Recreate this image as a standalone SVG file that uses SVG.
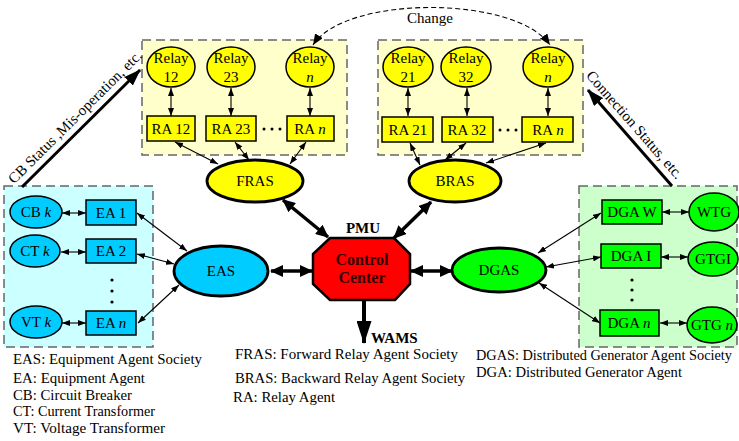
<svg xmlns="http://www.w3.org/2000/svg" width="739" height="441" viewBox="0 0 739 441">
<style>
text{font-family:"Liberation Serif","Times New Roman",serif;font-size:15px;fill:#000}
.m{text-anchor:middle}
.pY{fill:#FFFFCC;stroke:#666;stroke-width:1.5;stroke-dasharray:9,5}
.pC{fill:#CCFFFF;stroke:#666;stroke-width:1.5;stroke-dasharray:9,5}
.pG{fill:#CCFFCC;stroke:#666;stroke-width:1.5;stroke-dasharray:9,5}
.y{fill:#FFFF00;stroke:#000;stroke-width:1.5}
.c{fill:#00CCFF;stroke:#000;stroke-width:1.5}
.g{fill:#00FF00;stroke:#000;stroke-width:1.5}
.bg{stroke-width:2.8}
.t{stroke:#000;stroke-width:1.1;fill:none;marker-start:url(#ah);marker-end:url(#ah)}
.T{stroke:#000;stroke-width:3.5;fill:none;marker-start:url(#ahT);marker-end:url(#ahT)}
.B{stroke:#000;stroke-width:3;fill:none;marker-end:url(#ahB)}
.it{font-style:italic}
.leg{font-size:15px}
</style>
<defs>
<marker id="ah" markerUnits="userSpaceOnUse" markerWidth="8" markerHeight="6" refX="8" refY="3" orient="auto-start-reverse"><path d="M0,0 L8,3 L0,6 z" fill="#000"/></marker>
<marker id="ahM" markerUnits="userSpaceOnUse" markerWidth="11" markerHeight="9" refX="11" refY="4.5" orient="auto-start-reverse"><path d="M0,0 L11,4.5 L0,9 z" fill="#000"/></marker>
<marker id="ahT" markerUnits="userSpaceOnUse" markerWidth="13" markerHeight="12" refX="12" refY="6" orient="auto-start-reverse"><path d="M0,0 L13,6 L0,12 z" fill="#000"/></marker>
<marker id="ahB" markerUnits="userSpaceOnUse" markerWidth="17" markerHeight="12" refX="16" refY="6" orient="auto"><path d="M0,0 L17,6 L0,12 z" fill="#000"/></marker>
<marker id="ahW" markerUnits="userSpaceOnUse" markerWidth="23" markerHeight="15" refX="22" refY="7.5" orient="auto"><path d="M0,0 L23,7.5 L0,15 z" fill="#000"/></marker>
</defs>

<!-- panels -->
<g id="panel-fr"><rect class="pY" x="142" y="40" width="205" height="115"/></g>
<g id="panel-br"><rect class="pY" x="378" y="40" width="205" height="115"/></g>
<g id="panel-eq"><rect class="pC" x="4" y="186" width="149" height="161"/></g>
<g id="panel-dg"><rect class="pG" x="579" y="186" width="158" height="161"/></g>

<!-- connectors -->
<g id="connectors">
<path d="M313,45 C345,-5 515,-5 550,45" fill="none" stroke="#000" stroke-width="1.1" stroke-dasharray="5,3" marker-start="url(#ahM)" marker-end="url(#ahM)"/>
<line class="t" x1="171" y1="88" x2="171" y2="116"/>
<line class="t" x1="231" y1="88" x2="231" y2="116"/>
<line class="t" x1="310" y1="88" x2="310" y2="116"/>
<line class="t" x1="408" y1="88" x2="408" y2="116"/>
<line class="t" x1="467" y1="88" x2="467" y2="116"/>
<line class="t" x1="548" y1="88" x2="548" y2="116"/>
<line class="t" x1="175" y1="142" x2="218" y2="164"/>
<line class="t" x1="235" y1="142" x2="249" y2="160"/>
<line class="t" x1="306" y1="142" x2="290" y2="164"/>
<line class="t" x1="410" y1="143" x2="420" y2="165"/>
<line class="t" x1="466" y1="143" x2="445" y2="160"/>
<line class="t" x1="546" y1="143" x2="486" y2="163"/>
<line class="t" x1="137" y1="213" x2="187" y2="251"/>
<line class="t" x1="137" y1="254" x2="174" y2="264"/>
<line class="t" x1="138" y1="323" x2="179" y2="285"/>
<line class="t" x1="538" y1="253" x2="601" y2="213"/>
<line class="t" x1="546" y1="267" x2="601" y2="257"/>
<line class="t" x1="539" y1="283" x2="600" y2="323"/>
<line class="t" x1="62" y1="213" x2="86" y2="213"/>
<line class="t" x1="61" y1="252" x2="86" y2="252"/>
<line class="t" x1="62" y1="323" x2="86" y2="323"/>
<line class="t" x1="662" y1="212" x2="689" y2="212"/>
<line class="t" x1="661" y1="257" x2="688" y2="257"/>
<line class="t" x1="660" y1="323" x2="687" y2="323"/>
<line class="T" x1="283" y1="200" x2="328" y2="237"/>
<line class="T" x1="431" y1="202" x2="394" y2="238"/>
<line class="T" x1="271" y1="271" x2="312" y2="271"/>
<line class="T" x1="411" y1="271" x2="452" y2="271"/>
<line class="B" x1="22" y1="187" x2="140" y2="70"/>
<line class="B" x1="672" y1="186" x2="588" y2="90"/>
<line x1="364" y1="300" x2="364" y2="343" stroke="#000" stroke-width="4" marker-end="url(#ahW)"/>
</g>

<!-- top-left relays -->
<g id="relay12"><ellipse class="y" cx="171" cy="67" rx="24" ry="20"/><text class="m" x="171" y="63">Relay</text><text class="m" x="171" y="82">12</text></g>
<g id="relay23"><ellipse class="y" cx="231" cy="67" rx="24" ry="20"/><text class="m" x="231" y="63">Relay</text><text class="m" x="231" y="82">23</text></g>
<g id="relayn1"><ellipse class="y" cx="310" cy="67" rx="24" ry="20"/><text class="m" x="310" y="63">Relay</text><text class="m it" x="310" y="82">n</text></g>
<g id="ra12"><rect class="y" x="147" y="116" width="48" height="25"/><text class="m" x="171" y="134">RA 12</text></g>
<g id="ra23"><rect class="y" x="206" y="116" width="50" height="25"/><text class="m" x="231" y="134">RA 23</text></g>
<g id="dots1"><circle cx="264" cy="129" r="1.5"/><circle cx="272" cy="129" r="1.5"/><circle cx="280" cy="129" r="1.5"/></g>
<g id="ran1"><rect class="y" x="287" y="116" width="47" height="25"/><text class="m" x="310" y="134">RA <tspan class="it">n</tspan></text></g>

<!-- top-right relays -->
<g id="relay21"><ellipse class="y" cx="408" cy="67" rx="25" ry="20"/><text class="m" x="408" y="63">Relay</text><text class="m" x="408" y="82">21</text></g>
<g id="relay32"><ellipse class="y" cx="466" cy="67" rx="25" ry="20"/><text class="m" x="466" y="63">Relay</text><text class="m" x="466" y="82">32</text></g>
<g id="relayn2"><ellipse class="y" cx="548" cy="67" rx="25" ry="20"/><text class="m" x="548" y="63">Relay</text><text class="m it" x="548" y="82">n</text></g>
<g id="ra21"><rect class="y" x="382" y="117" width="51" height="25"/><text class="m" x="408" y="135">RA 21</text></g>
<g id="ra32"><rect class="y" x="442" y="117" width="51" height="25"/><text class="m" x="467" y="135">RA 32</text></g>
<g id="dots2"><circle cx="500" cy="130" r="1.5"/><circle cx="508" cy="130" r="1.5"/><circle cx="516" cy="130" r="1.5"/></g>
<g id="ran2"><rect class="y" x="522" y="117" width="51" height="25"/><text class="m" x="548" y="135">RA <tspan class="it">n</tspan></text></g>

<g id="change"><text class="m" x="430" y="23">Change</text></g>

<!-- societies -->
<g id="fras"><ellipse class="y bg" cx="255" cy="181" rx="48" ry="21"/><text class="m" x="255" y="186">FRAS</text></g>
<g id="bras"><ellipse class="y bg" cx="455" cy="181" rx="46" ry="21"/><text class="m" x="455" y="186">BRAS</text></g>
<g id="eas"><ellipse class="c bg" cx="221" cy="271" rx="47" ry="25"/><text class="m" x="221" y="276">EAS</text></g>
<g id="dgas"><ellipse class="g bg" cx="499" cy="270" rx="47" ry="22"/><text class="m" x="499" y="275">DGAS</text></g>

<!-- control center -->
<g id="cc">
<polygon points="330,238 394,238 410,254 410,284 395,300 330,300 313,284 313,254" fill="#FF0000" stroke="#000" stroke-width="2.5"/>
<text class="m" x="362" y="265" style="font-weight:bold;font-size:16px;fill:#300">Control</text>
<text class="m" x="362" y="283" style="font-weight:bold;font-size:16px;fill:#300">Center</text>
</g>
<g id="pmu"><text class="m" x="363" y="233" style="font-weight:bold">PMU</text></g>
<g id="wams"><text x="371" y="343" style="font-weight:bold">WAMS</text></g>

<!-- equipment panel -->
<g id="cbk"><ellipse class="c" cx="36" cy="212" rx="26" ry="16"/><text class="m" x="36" y="217">CB <tspan class="it">k</tspan></text></g>
<g id="ctk"><ellipse class="c" cx="35" cy="251" rx="25" ry="16"/><text class="m" x="35" y="256">CT <tspan class="it">k</tspan></text></g>
<g id="vtk"><ellipse class="c" cx="36" cy="322" rx="26" ry="16"/><text class="m" x="36" y="327">VT <tspan class="it">k</tspan></text></g>
<g id="ea1"><rect class="c" x="86" y="200" width="50" height="25"/><text class="m" x="111" y="218">EA 1</text></g>
<g id="ea2"><rect class="c" x="86" y="239" width="50" height="24"/><text class="m" x="111" y="256">EA 2</text></g>
<g id="dots3"><circle cx="112" cy="280" r="1.6"/><circle cx="112" cy="291" r="1.6"/><circle cx="112" cy="302" r="1.6"/></g>
<g id="ean"><rect class="c" x="86" y="311" width="50" height="24"/><text class="m" x="111" y="328">EA <tspan class="it">n</tspan></text></g>

<!-- generator panel -->
<g id="dgaw"><rect class="g" x="602" y="200" width="60" height="24"/><text class="m" x="632" y="217">DGA W</text></g>
<g id="dga1"><rect class="g" x="601" y="244" width="60" height="24"/><text class="m" x="631" y="261">DGA I</text></g>
<g id="dots4"><circle cx="632" cy="280" r="1.6"/><circle cx="632" cy="290" r="1.6"/><circle cx="632" cy="300" r="1.6"/></g>
<g id="dgan"><rect class="g" x="600" y="310" width="59" height="26"/><text class="m" x="629" y="328">DGA <tspan class="it">n</tspan></text></g>
<g id="wtg"><ellipse class="g" cx="714" cy="212" rx="25" ry="19"/><text class="m" x="714" y="217">WTG</text></g>
<g id="gtg1"><ellipse class="g" cx="713" cy="259" rx="25" ry="17"/><text class="m" x="713" y="264">GTGI</text></g>
<g id="gtgn"><ellipse class="g" cx="712" cy="325" rx="25" ry="18"/><text class="m" x="712" y="330">GTG <tspan class="it">n</tspan></text></g>

<!-- arrow labels -->
<g id="lbl-cb"><text class="m" transform="translate(78.5,120.5) rotate(-44.8)">CB Status ,Mis-operation, etc.</text></g>
<g id="lbl-conn"><text class="m" transform="translate(631,128) rotate(48.8)">Connection Status, etc.</text></g>

<!-- legend -->
<g id="legend">
<text class="leg" x="13" y="364" textLength="189" lengthAdjust="spacingAndGlyphs">EAS: Equipment Agent Society</text>
<text class="leg" x="13" y="383" textLength="132" lengthAdjust="spacingAndGlyphs">EA: Equipment Agent</text>
<text class="leg" x="13" y="400" textLength="119" lengthAdjust="spacingAndGlyphs">CB: Circuit Breaker</text>
<text class="leg" x="13" y="416" textLength="142" lengthAdjust="spacingAndGlyphs">CT: Current Transformer</text>
<text class="leg" x="13" y="433" textLength="152" lengthAdjust="spacingAndGlyphs">VT: Voltage Transformer</text>
<text class="leg" x="235" y="359" textLength="223" lengthAdjust="spacingAndGlyphs">FRAS: Forward Relay Agent Society</text>
<text class="leg" x="235" y="383" textLength="230" lengthAdjust="spacingAndGlyphs">BRAS: Backward Relay Agent Society</text>
<text class="leg" x="233" y="402" textLength="102" lengthAdjust="spacingAndGlyphs">RA: Relay Agent</text>
<text x="476" y="360" style="font-size:14px" textLength="256" lengthAdjust="spacingAndGlyphs">DGAS: Distributed Generator Agent Society</text>
<text class="leg" x="476" y="377" textLength="206" lengthAdjust="spacingAndGlyphs">DGA: Distributed Generator Agent</text>
</g>
</svg>
